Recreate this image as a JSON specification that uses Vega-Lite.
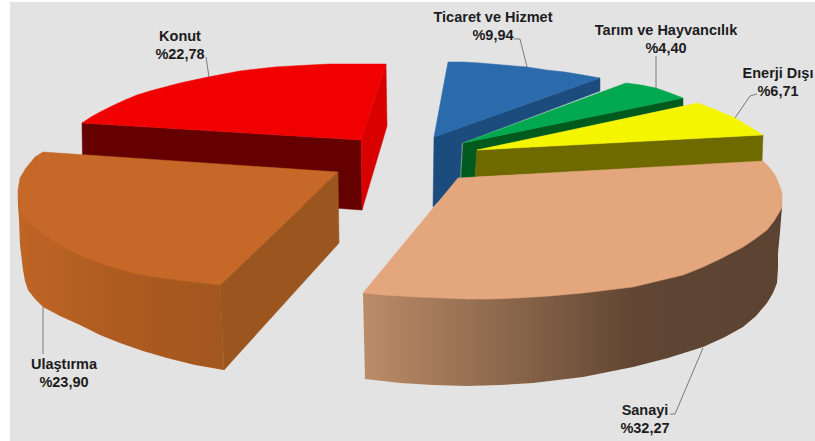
{
  "$schema": "https://vega.github.io/schema/vega-lite/v6.json",
  "width": 815,
  "height": 441,
  "autosize": {"type": "fit", "contains": "padding"},
  "padding": 0,
  "background": "#ffffff",
  "view": {"stroke": null},
  "datasets": {
    "panel": [{"x": 10, "x2": 815, "y": 2, "y2": 441}],
    "sanayiSide": [
      {"x":363,"y":293},{"x":365,"y":379},{"x":383,"y":381},{"x":400,"y":383},{"x":433,"y":385},{"x":467,"y":386},{"x":500,"y":385},{"x":533,"y":383},{"x":558,"y":380},{"x":583,"y":377},{"x":608,"y":372},{"x":633,"y":367},{"x":668,"y":358},{"x":703,"y":347},{"x":725,"y":337},{"x":743,"y":327},{"x":756,"y":316},{"x":767,"y":303},{"x":773,"y":293},{"x":777,"y":283},{"x":778,"y":268},{"x":778,"y":253},{"x":780,"y":232},{"x":782,"y":207},{"x":700,"y":230},{"x":467,"y":280}
    ],
    "ulastirmaSide": [
      {"x":18,"y":190},{"x":18,"y":205},{"x":19,"y":220},{"x":20,"y":245},{"x":23,"y":270},{"x":25,"y":281},{"x":28,"y":290},{"x":35,"y":299},{"x":43,"y":307},{"x":60,"y":316},{"x":80,"y":325},{"x":100,"y":335},{"x":120,"y":343},{"x":143,"y":351},{"x":167,"y":358},{"x":195,"y":365},{"x":224,"y":370},{"x":220,"y":280},{"x":100,"y":240},{"x":30,"y":200}
    ],
    "faces": [
      {"part":"konutFront","x":82,"y":123},{"part":"konutFront","x":361,"y":140},{"part":"konutFront","x":362,"y":210},{"part":"konutFront","x":83,"y":190},
      {"part":"konutRight","x":386,"y":64},{"part":"konutRight","x":387,"y":126},{"part":"konutRight","x":362,"y":210},{"part":"konutRight","x":361,"y":140},
      {"part":"konutTop","x":82,"y":123},{"part":"konutTop","x":91,"y":117},{"part":"konutTop","x":100,"y":112},{"part":"konutTop","x":112,"y":106},{"part":"konutTop","x":125,"y":100},{"part":"konutTop","x":137,"y":95},{"part":"konutTop","x":150,"y":91},{"part":"konutTop","x":165,"y":87},{"part":"konutTop","x":180,"y":83},{"part":"konutTop","x":194,"y":80},{"part":"konutTop","x":208,"y":77},{"part":"konutTop","x":224,"y":74},{"part":"konutTop","x":240,"y":71},{"part":"konutTop","x":257,"y":69},{"part":"konutTop","x":275,"y":67},{"part":"konutTop","x":292,"y":66},{"part":"konutTop","x":310,"y":65},{"part":"konutTop","x":330,"y":64},{"part":"konutTop","x":350,"y":64},{"part":"konutTop","x":386,"y":64},{"part":"konutTop","x":361,"y":140},
      {"part":"ticaretSide","x":434,"y":137},{"part":"ticaretSide","x":600,"y":78},{"part":"ticaretSide","x":600,"y":91},{"part":"ticaretSide","x":462,"y":143},{"part":"ticaretSide","x":460,"y":180},{"part":"ticaretSide","x":433,"y":207},
      {"part":"ticaretTop","x":448,"y":62},{"part":"ticaretTop","x":463,"y":62},{"part":"ticaretTop","x":480,"y":63},{"part":"ticaretTop","x":503,"y":65},{"part":"ticaretTop","x":527,"y":67},{"part":"ticaretTop","x":546,"y":70},{"part":"ticaretTop","x":565,"y":72},{"part":"ticaretTop","x":583,"y":75},{"part":"ticaretTop","x":600,"y":78},{"part":"ticaretTop","x":434,"y":137},
      {"part":"tarimSide","x":463,"y":143},{"part":"tarimSide","x":683,"y":98},{"part":"tarimSide","x":683,"y":106},{"part":"tarimSide","x":477,"y":150},{"part":"tarimSide","x":475,"y":178},{"part":"tarimSide","x":461,"y":178},
      {"part":"tarimTop","x":463,"y":143},{"part":"tarimTop","x":626,"y":83},{"part":"tarimTop","x":641,"y":85},{"part":"tarimTop","x":656,"y":88},{"part":"tarimTop","x":670,"y":93},{"part":"tarimTop","x":683,"y":98},
      {"part":"enerjiSide","x":477,"y":150},{"part":"enerjiSide","x":763,"y":135},{"part":"enerjiSide","x":762,"y":162},{"part":"enerjiSide","x":475,"y":177},
      {"part":"enerjiTop","x":477,"y":150},{"part":"enerjiTop","x":698,"y":103},{"part":"enerjiTop","x":716,"y":110},{"part":"enerjiTop","x":735,"y":118},{"part":"enerjiTop","x":750,"y":127},{"part":"enerjiTop","x":763,"y":135},
      {"part":"ulastirmaRight","x":220,"y":285},{"part":"ulastirmaRight","x":338,"y":172},{"part":"ulastirmaRight","x":339,"y":243},{"part":"ulastirmaRight","x":224,"y":370},
      {"part":"ulastirmaTop","x":43,"y":152},{"part":"ulastirmaTop","x":35,"y":157},{"part":"ulastirmaTop","x":26,"y":168},{"part":"ulastirmaTop","x":20,"y":178},{"part":"ulastirmaTop","x":18,"y":190},{"part":"ulastirmaTop","x":18,"y":200},{"part":"ulastirmaTop","x":20,"y":209},{"part":"ulastirmaTop","x":25,"y":218},{"part":"ulastirmaTop","x":33,"y":226},{"part":"ulastirmaTop","x":43,"y":234},{"part":"ulastirmaTop","x":60,"y":245},{"part":"ulastirmaTop","x":80,"y":255},{"part":"ulastirmaTop","x":105,"y":265},{"part":"ulastirmaTop","x":133,"y":273},{"part":"ulastirmaTop","x":155,"y":277},{"part":"ulastirmaTop","x":177,"y":280},{"part":"ulastirmaTop","x":220,"y":285},{"part":"ulastirmaTop","x":338,"y":172},
      {"part":"sanayiTop","x":363,"y":293},{"part":"sanayiTop","x":458,"y":178},{"part":"sanayiTop","x":763,"y":161},{"part":"sanayiTop","x":769,"y":167},{"part":"sanayiTop","x":775,"y":175},{"part":"sanayiTop","x":779,"y":184},{"part":"sanayiTop","x":782,"y":193},{"part":"sanayiTop","x":782,"y":207},{"part":"sanayiTop","x":780,"y":211},{"part":"sanayiTop","x":774,"y":221},{"part":"sanayiTop","x":767,"y":230},{"part":"sanayiTop","x":755,"y":239},{"part":"sanayiTop","x":743,"y":247},{"part":"sanayiTop","x":720,"y":259},{"part":"sanayiTop","x":703,"y":267},{"part":"sanayiTop","x":683,"y":275},{"part":"sanayiTop","x":658,"y":281},{"part":"sanayiTop","x":633,"y":287},{"part":"sanayiTop","x":608,"y":290},{"part":"sanayiTop","x":583,"y":293},{"part":"sanayiTop","x":550,"y":296},{"part":"sanayiTop","x":517,"y":298},{"part":"sanayiTop","x":492,"y":299},{"part":"sanayiTop","x":467,"y":299},{"part":"sanayiTop","x":442,"y":298},{"part":"sanayiTop","x":417,"y":297},{"part":"sanayiTop","x":400,"y":296},{"part":"sanayiTop","x":383,"y":295}
    ],
    "leaders": [
      {"slice":"Konut","x":206,"y":57},{"slice":"Konut","x":209,"y":77},
      {"slice":"Ticaret","x":514,"y":39},{"slice":"Ticaret","x":520,"y":39},{"slice":"Ticaret","x":527,"y":67},
      {"slice":"Tarim","x":656,"y":56},{"slice":"Tarim","x":656,"y":88},
      {"slice":"Enerji","x":757,"y":94},{"slice":"Enerji","x":750,"y":96},{"slice":"Enerji","x":735,"y":118},
      {"slice":"Ulastirma","x":43,"y":307},{"slice":"Ulastirma","x":43,"y":354},
      {"slice":"Sanayi","x":703,"y":348},{"slice":"Sanayi","x":675,"y":414},{"slice":"Sanayi","x":670,"y":414}
    ],
    "labels": [
      {"label":"Konut\n%22,78","x":180,"y":40.5},
      {"label":"Ticaret ve Hizmet\n%9,94","x":493,"y":21.5},
      {"label":"Tarım ve Hayvancılık\n%4,40","x":666,"y":34.5},
      {"label":"Enerji Dışı\n%6,71","x":778,"y":77.5},
      {"label":"Ulaştırma\n%23,90","x":64,"y":368.5},
      {"label":"Sanayi\n%32,27","x":645,"y":414.5}
    ]
  },
  "encoding": {
    "x": {"field": "x", "type": "quantitative", "axis": null, "scale": {"domain": [0, 815], "nice": false, "zero": false}},
    "y": {"field": "y", "type": "quantitative", "axis": null, "scale": {"domain": [441, 0], "nice": false, "zero": false}}
  },
  "layer": [
    {
      "data": {"name": "panel"},
      "mark": {"type": "rect", "fill": "#e3e3e3"},
      "encoding": {"x2": {"field": "x2"}, "y2": {"field": "y2"}}
    },
    {
      "data": {"name": "sanayiSide"},
      "mark": {
        "type": "line",
        "filled": true,
        "interpolate": "linear-closed",
        "strokeWidth": 0,
        "fill": {
          "gradient": "linear", "x1": 0, "y1": 0, "x2": 1, "y2": 0,
          "stops": [
            {"offset": 0, "color": "#bb8c68"},
            {"offset": 0.35, "color": "#8b664b"},
            {"offset": 0.65, "color": "#604633"},
            {"offset": 1, "color": "#5c4331"}
          ]
        }
      },
      "encoding": {"order": {"value": null}}
    },
    {
      "data": {"name": "ulastirmaSide"},
      "mark": {
        "type": "line",
        "filled": true,
        "interpolate": "linear-closed",
        "strokeWidth": 0,
        "fill": {
          "gradient": "linear", "x1": 0, "y1": 0, "x2": 1, "y2": 0,
          "stops": [
            {"offset": 0, "color": "#bf6525"},
            {"offset": 0.5, "color": "#ad5b20"},
            {"offset": 1, "color": "#a2571e"}
          ]
        }
      },
      "encoding": {"order": {"value": null}}
    },
    {
      "data": {"name": "faces"},
      "mark": {"type": "line", "filled": true, "interpolate": "linear-closed", "strokeWidth": 0.5},
      "encoding": {
        "detail": {"field": "part"},
        "order": {"value": null},
        "fill": {
          "field": "part", "type": "nominal", "legend": null,
          "scale": {
            "domain": ["konutFront","konutRight","konutTop","ticaretSide","ticaretTop","tarimSide","tarimTop","enerjiSide","enerjiTop","ulastirmaRight","ulastirmaTop","sanayiTop"],
            "range": ["#640000","#d90000","#f00000","#1c4c7e","#2b6aab","#005a1e","#00a84f","#6e6a00","#f5f500","#9b561f","#c56828","#e4a67c"]
          }
        },
        "stroke": {
          "field": "part", "type": "nominal", "legend": null,
          "scale": {
            "domain": ["konutFront","konutRight","konutTop","ticaretSide","ticaretTop","tarimSide","tarimTop","enerjiSide","enerjiTop","ulastirmaRight","ulastirmaTop","sanayiTop"],
            "range": ["#640000","#d90000","#f00000","#1c4c7e","#2b6aab","#005a1e","#00a84f","#6e6a00","#f5f500","#9b561f","#c56828","#e4a67c"]
          }
        }
      }
    },
    {
      "data": {"name": "leaders"},
      "mark": {"type": "line", "stroke": "#7a7a7a", "strokeWidth": 1},
      "encoding": {"detail": {"field": "slice"}, "order": {"value": null}}
    },
    {
      "data": {"name": "labels"},
      "mark": {
        "type": "text",
        "font": "Liberation Sans",
        "fontWeight": "bold",
        "fontSize": 14.5,
        "lineHeight": 18,
        "lineBreak": "\n",
        "align": "center",
        "baseline": "alphabetic",
        "fill": "#1c1c20"
      },
      "encoding": {"text": {"field": "label"}}
    }
  ]
}
